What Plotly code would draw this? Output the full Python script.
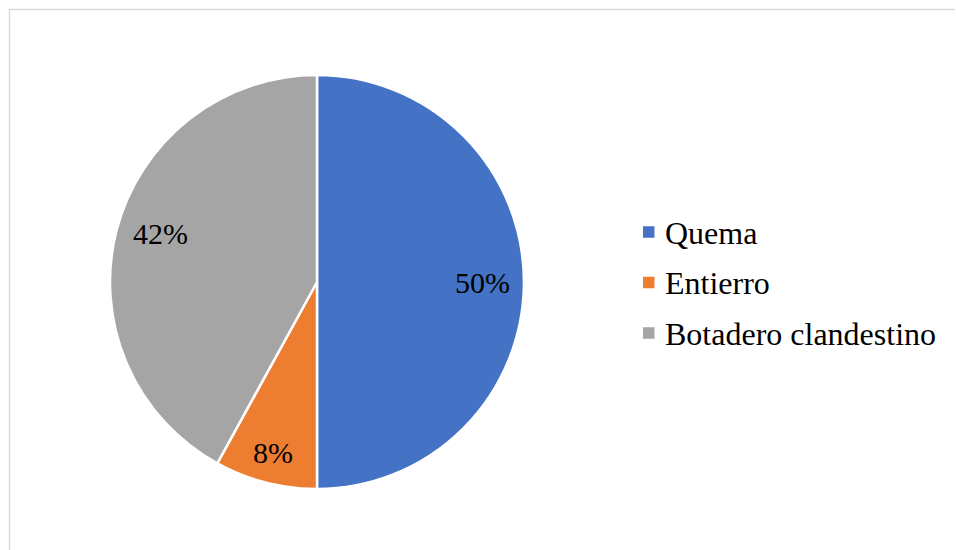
import math
import plotly.graph_objects as go

# Waste disposal methods and their shares (%)
categories = ["Quema", "Entierro", "Botadero clandestino"]
values = [50, 8, 42]
colors = ["#4472C4", "#ED7D31", "#A5A5A5"]

W, H = 956, 550
FONT = "Liberation Serif"

# pie placement in pixels (center and radius)
cx, cy, R = 317, 282, 207
dom_x = [(cx - R) / W, (cx + R) / W]
dom_y = [1 - (cy + R) / H, 1 - (cy - R) / H]

fig = go.Figure(
    go.Pie(
        labels=categories,
        values=values,
        sort=False,
        direction="clockwise",
        rotation=0,
        marker=dict(colors=colors, line=dict(color="white", width=2.5)),
        textinfo="none",
        hoverinfo="label+percent",
        showlegend=False,
        domain=dict(x=dom_x, y=dom_y),
    )
)

# percentage labels placed near each slice's bisector (best-fit style)
label_radius = [0.8, 0.85, 0.79]
label_shift_deg = [0, 0, 3]
total = sum(values)
annotations = []
cum = 0
for v, rf, sh in zip(values, label_radius, label_shift_deg):
    mid = (cum + v / 2) / total * 2 * math.pi + math.radians(sh)
    cum += v
    px = cx + rf * R * math.sin(mid)
    py = cy - rf * R * math.cos(mid)
    annotations.append(dict(
        x=px / W, y=1 - py / H, xref="paper", yref="paper",
        text=f"{round(v / total * 100)}%", showarrow=False,
        font=dict(family=FONT, size=30, color="black"),
        xanchor="center", yanchor="middle",
    ))

# legend: colour squares with category names
shapes = []
leg_x, leg_y0, leg_dy, sq = 643, 232, 50.5, 11.5
for i, (name, col) in enumerate(zip(categories, colors)):
    yc = leg_y0 + i * leg_dy
    shapes.append(dict(
        type="rect", xref="paper", yref="paper",
        x0=leg_x / W, x1=(leg_x + sq) / W,
        y0=1 - (yc + sq / 2) / H, y1=1 - (yc - sq / 2) / H,
        fillcolor=col, line=dict(width=0),
    ))
    annotations.append(dict(
        x=663 / W, y=1 - (yc + 0.5) / H, xref="paper", yref="paper",
        text=name, showarrow=False,
        font=dict(family=FONT, size=32, color="black"),
        xanchor="left", yanchor="middle",
    ))

# chart area border (top and left edges visible)
shapes.append(dict(
    type="path", xref="paper", yref="paper",
    path=f"M {9.5 / W} 0 L {9.5 / W} {1 - 9.5 / H} L {955 / W} {1 - 9.5 / H}",
    line=dict(color="#D9D9D9", width=1.5),
))

fig.update_layout(
    width=W, height=H,
    margin=dict(l=0, r=0, t=0, b=0),
    paper_bgcolor="white", plot_bgcolor="white",
    annotations=annotations, shapes=shapes,
    font=dict(family=FONT),
)

fig.write_html("out.html")
